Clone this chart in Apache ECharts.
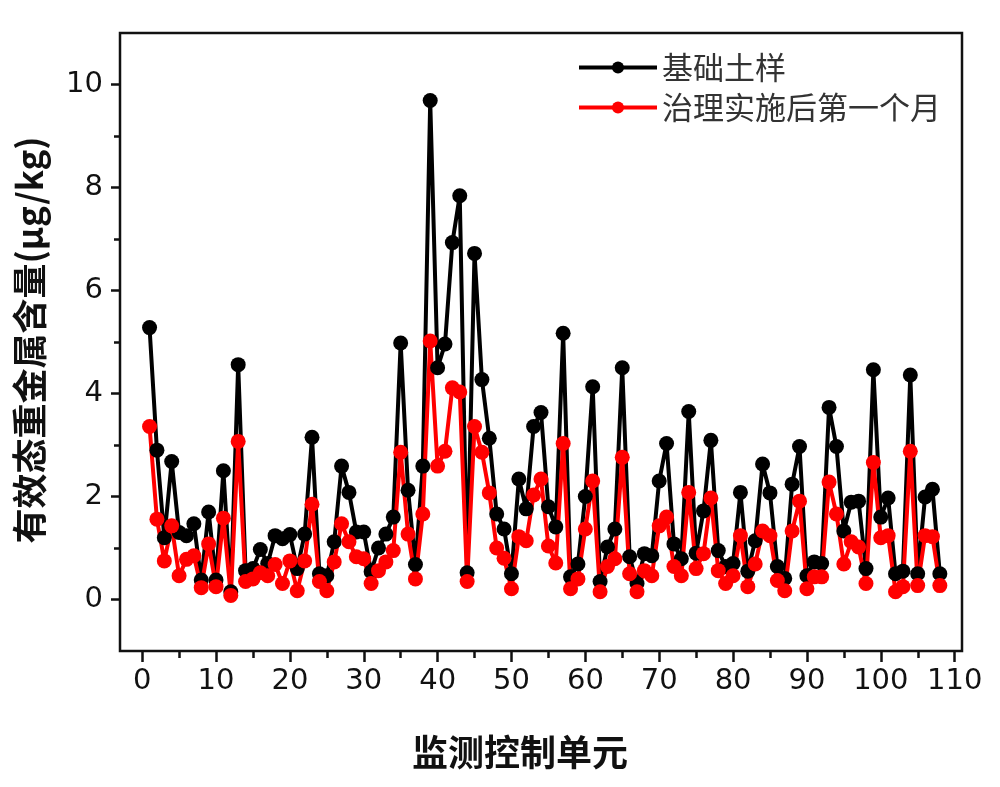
<!DOCTYPE html>
<html>
<head>
<meta charset="utf-8">
<script src="https://cdn.jsdelivr.net/npm/echarts@6/dist/echarts.min.js"></script>
<style>
html, body { margin: 0; padding: 0; background: #fff; }
#main { width: 1000px; height: 787px; }
</style>
</head>
<body>
<div id="main"></div>
<script>
// 监测控制单元编号
var unitIds = [1, 2, 3, 4, 5, 6, 7, 8, 9, 10, 11, 12, 13, 14, 15, 16, 17, 18, 19, 20,
	21, 22, 23, 24, 25, 26, 27, 28, 29, 30, 31, 32, 33, 34, 35, 36, 37, 38, 39, 40,
	41, 42, 43, 44, 45, 46, 47, 48, 49, 50, 51, 52, 53, 54, 55, 56, 57, 58, 59, 60,
	61, 62, 63, 64, 65, 66, 67, 68, 69, 70, 71, 72, 73, 74, 75, 76, 77, 78, 79, 80,
	81, 82, 83, 84, 85, 86, 87, 88, 89, 90, 91, 92, 93, 94, 95, 96, 97, 98, 99, 100,
	101, 102, 103, 104, 105, 106, 107, 108];

// 基础土样
var baseSoil = [5.28, 2.9, 1.2, 2.68, 1.3, 1.24, 1.47, 0.38, 1.7, 0.38,
	2.5, 0.15, 4.56, 0.56, 0.6, 0.97, 0.7, 1.24, 1.18, 1.26,
	0.6, 1.27, 3.15, 0.5, 0.46, 1.12, 2.59, 2.08, 1.31, 1.31,
	0.54, 1.0, 1.27, 1.6, 4.98, 2.12, 0.68, 2.59, 9.69, 4.5,
	4.96, 6.93, 7.84, 0.52, 6.72, 4.27, 3.13, 1.66, 1.37, 0.5,
	2.34, 1.76, 3.36, 3.63, 1.8, 1.41, 5.17, 0.44, 0.69, 2.0,
	4.13, 0.35, 1.02, 1.37, 4.5, 0.83, 0.31, 0.89, 0.85, 2.3,
	3.03, 1.08, 0.79, 3.65, 0.9, 1.72, 3.09, 0.95, 0.64, 0.7,
	2.08, 0.55, 1.14, 2.63, 2.07, 0.64, 0.41, 2.24, 2.97, 0.46,
	0.73, 0.7, 3.73, 2.97, 1.33, 1.89, 1.91, 0.6, 4.46, 1.6,
	1.97, 0.5, 0.55, 4.36, 0.5, 1.99, 2.14, 0.5];

// 治理实施后第一个月
var afterMonth = [3.36, 1.56, 0.75, 1.43, 0.46, 0.78, 0.85, 0.23, 1.08, 0.25,
	1.58, 0.08, 3.07, 0.35, 0.4, 0.52, 0.46, 0.68, 0.31, 0.75,
	0.17, 0.75, 1.85, 0.35, 0.17, 0.73, 1.47, 1.12, 0.83, 0.79,
	0.31, 0.56, 0.73, 0.95, 2.86, 1.27, 0.4, 1.66, 5.02, 2.59,
	2.88, 4.11, 4.03, 0.35, 3.36, 2.86, 2.07, 1.0, 0.8, 0.21,
	1.22, 1.14, 2.03, 2.34, 1.04, 0.71, 3.03, 0.21, 0.4, 1.37,
	2.3, 0.15, 0.64, 0.79, 2.76, 0.5, 0.15, 0.56, 0.46, 1.43,
	1.6, 0.64, 0.46, 2.08, 0.6, 0.89, 1.97, 0.56, 0.31, 0.46,
	1.24, 0.25, 0.69, 1.33, 1.24, 0.37, 0.17, 1.33, 1.91, 0.21,
	0.44, 0.44, 2.28, 1.66, 0.69, 1.12, 1.02, 0.31, 2.66, 1.2,
	1.24, 0.15, 0.25, 2.88, 0.27, 1.24, 1.22, 0.27];

var seriesNames = ['基础土样', '治理实施后第一个月'];

function pairs(ys) {
	return unitIds.map(function (x, i) { return [x, ys[i]]; });
}

var myChart = echarts.init(document.getElementById('main'));
var tickStyle = { color: '#111', width: 2.5 };
var labelFont = { fontSize: 29, color: '#111', fontFamily: 'DejaVu Sans' };
var option = {
	animation: false,
	backgroundColor: '#fff',
	grid: [
		// 数据区与外框
		{ left: 120, right: 38, top: 33, bottom: 136, show: true, borderColor: '#111', borderWidth: 2.5 },
		// 横轴刻度 (0-110)
		{ left: 142.2, right: 45.3, top: 33, bottom: 136 },
		// 纵轴刻度 (0-10)
		{ left: 120, right: 38, top: 84.5, bottom: 187.5 }
	],
	legend: {
		orient: 'vertical',
		left: 572,
		top: 47,
		itemWidth: 78,
		itemHeight: 15,
		itemGap: 9,
		lineStyle: { width: 4 },
		textStyle: { fontSize: 31, color: '#333', fontFamily: 'Noto Sans CJK SC' },
		data: seriesNames
	},
	xAxis: [
		{ gridIndex: 0, type: 'value', min: -3, max: 111, show: false },
		{
			gridIndex: 1, type: 'value', min: 0, max: 110, interval: 10,
			axisLine: { show: false, onZero: false },
			axisTick: { show: true, length: 11, lineStyle: tickStyle },
			minorTick: { show: true, splitNumber: 2, length: 7, lineStyle: tickStyle },
			splitLine: { show: false },
			axisLabel: Object.assign({ margin: 16 }, labelFont)
		},
		{ gridIndex: 2, type: 'value', min: -3, max: 111, show: false }
	],
	yAxis: [
		{ gridIndex: 0, type: 'value', min: -1, max: 11, show: false },
		{ gridIndex: 1, type: 'value', min: -1, max: 11, show: false },
		{
			gridIndex: 2, type: 'value', min: 0, max: 10, interval: 2,
			axisLine: { show: false, onZero: false },
			axisTick: { show: true, length: 9, lineStyle: tickStyle },
			minorTick: { show: true, splitNumber: 2, length: 6, lineStyle: tickStyle },
			splitLine: { show: false },
			axisLabel: Object.assign({ margin: 17 }, labelFont)
		}
	],
	graphic: [
		{
			type: 'text', x: 520, y: 752,
			style: {
				text: '监测控制单元', fill: '#111', align: 'center', verticalAlign: 'middle',
				font: 'bold 36px "Noto Sans CJK SC"'
			}
		},
		{
			type: 'text', x: 30, y: 340, rotation: Math.PI / 2,
			style: {
				text: '有效态重金属含量(μg/kg)', fill: '#111', align: 'center', verticalAlign: 'middle',
				font: 'bold 35px "Noto Sans CJK SC"'
			}
		}
	],
	series: [
		{
			name: seriesNames[0],
			type: 'line',
			xAxisIndex: 0, yAxisIndex: 0,
			symbol: 'circle', symbolSize: 15,
			itemStyle: { color: '#000' },
			lineStyle: { color: '#000', width: 4 },
			data: pairs(baseSoil)
		},
		{
			name: seriesNames[1],
			type: 'line',
			xAxisIndex: 0, yAxisIndex: 0,
			symbol: 'circle', symbolSize: 15,
			itemStyle: { color: '#ff0000' },
			lineStyle: { color: '#ff0000', width: 4 },
			data: pairs(afterMonth)
		}
	]
};
myChart.setOption(option);
</script>
</body>
</html>
